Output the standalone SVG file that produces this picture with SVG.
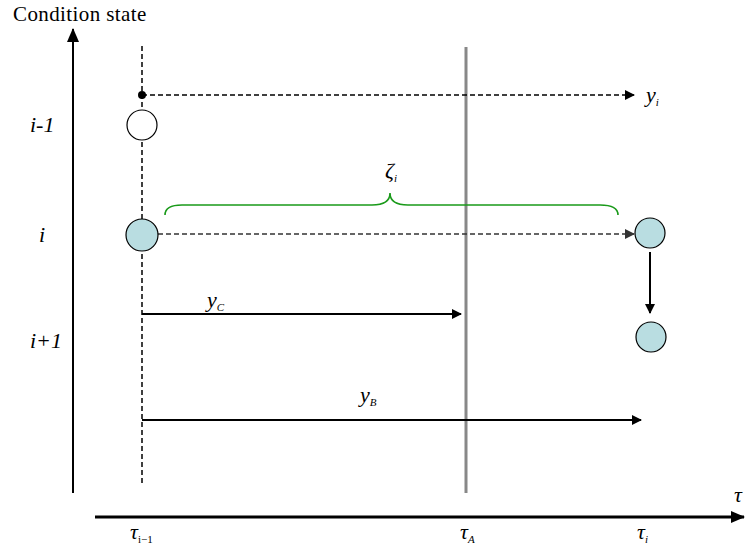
<svg xmlns="http://www.w3.org/2000/svg" width="746" height="549" viewBox="0 0 746 549" font-family="'Liberation Serif', 'Times New Roman', 'DejaVu Serif', serif">
<style>
.it{font-style:italic}
.lbl{font-size:22px}
.sub{font-size:11px;font-style:italic}
.dash{stroke:#000;stroke-width:1.5;stroke-dasharray:5,3;fill:none}
.node{stroke:#000;stroke-width:1.2}
.blue{fill:#b9dde1}
</style>
<defs>
<marker id="ah" markerWidth="10" markerHeight="10" refX="9" refY="5" orient="auto" markerUnits="userSpaceOnUse"><path d="M0,0 L10,5 L0,10 Z" fill="#000"/></marker>
<marker id="ahg" markerWidth="10" markerHeight="10" refX="9" refY="5" orient="auto" markerUnits="userSpaceOnUse"><path d="M0,0 L10,5 L0,10 Z" fill="#333"/></marker>
<marker id="ahb" markerWidth="14" markerHeight="12" refX="13" refY="6" orient="auto" markerUnits="userSpaceOnUse"><path d="M0,0 L14,6 L0,12 Z" fill="#000"/></marker>
</defs>
<g id="axes">
<line x1="73" y1="493" x2="73" y2="29" stroke="#000" stroke-width="2" marker-end="url(#ahb)"/>
<line x1="95" y1="517" x2="744" y2="517" stroke="#000" stroke-width="3" marker-end="url(#ahb)"/>
<text x="13" y="21" font-size="21" letter-spacing="0.4">Condition state</text>
<text x="734" y="502" class="it lbl">τ</text>
</g>
<g id="guides">
<line x1="142" y1="46" x2="142" y2="486" class="dash"/>
<line x1="466" y1="47" x2="466" y2="493" stroke="#888" stroke-width="3"/>
</g>
<g id="connectors">
<line x1="142" y1="95" x2="634" y2="95" class="dash" marker-end="url(#ah)"/>
<line x1="158" y1="234" x2="634" y2="234" class="dash" style="stroke:#333" marker-end="url(#ahg)"/>
<line x1="650" y1="252" x2="650" y2="313" stroke="#000" stroke-width="2" marker-end="url(#ah)"/>
<line x1="142" y1="314" x2="461" y2="314" stroke="#000" stroke-width="2" marker-end="url(#ah)"/>
<line x1="142" y1="420" x2="641" y2="420" stroke="#000" stroke-width="2" marker-end="url(#ah)"/>
<path d="M165,215 Q165,205 182,205 L372,205 Q390,205 390,193 Q390,205 408,205 L600,205 Q618,205 618,215" fill="none" stroke="#1a9a1a" stroke-width="1.6"/>
</g>
<g id="node-dot"><circle cx="142" cy="95" r="4" fill="#000"/></g>
<g id="node-prev"><circle cx="142" cy="125" r="15" fill="#fff" class="node"/></g>
<g id="node-i"><circle cx="142" cy="235" r="16" class="node blue"/></g>
<g id="node-i-right"><circle cx="650" cy="233" r="15" class="node blue"/></g>
<g id="node-next"><circle cx="651" cy="337" r="15" class="node blue"/></g>
<g id="labels">
<text x="30" y="132" class="it lbl">i-1</text>
<text x="39" y="242" class="it lbl">i</text>
<text x="30" y="348" class="it lbl">i+1</text>
<text x="646" y="102" class="it lbl">y<tspan class="sub" dy="4">i</tspan></text>
<text x="385" y="178" class="it lbl">ζ<tspan class="sub" dy="4">i</tspan></text>
<text x="207" y="307" class="it lbl">y<tspan class="sub" dy="4">C</tspan></text>
<text x="360" y="402" class="it lbl">y<tspan class="sub" dy="4">B</tspan></text>
<text x="130" y="539" class="it lbl">τ<tspan class="sub" dy="4" style="font-style:normal">i−1</tspan></text>
<text x="460" y="539" class="it lbl">τ<tspan class="sub" dy="4">A</tspan></text>
<text x="637" y="539" class="it lbl">τ<tspan class="sub" dy="4">i</tspan></text>
</g>
</svg>
